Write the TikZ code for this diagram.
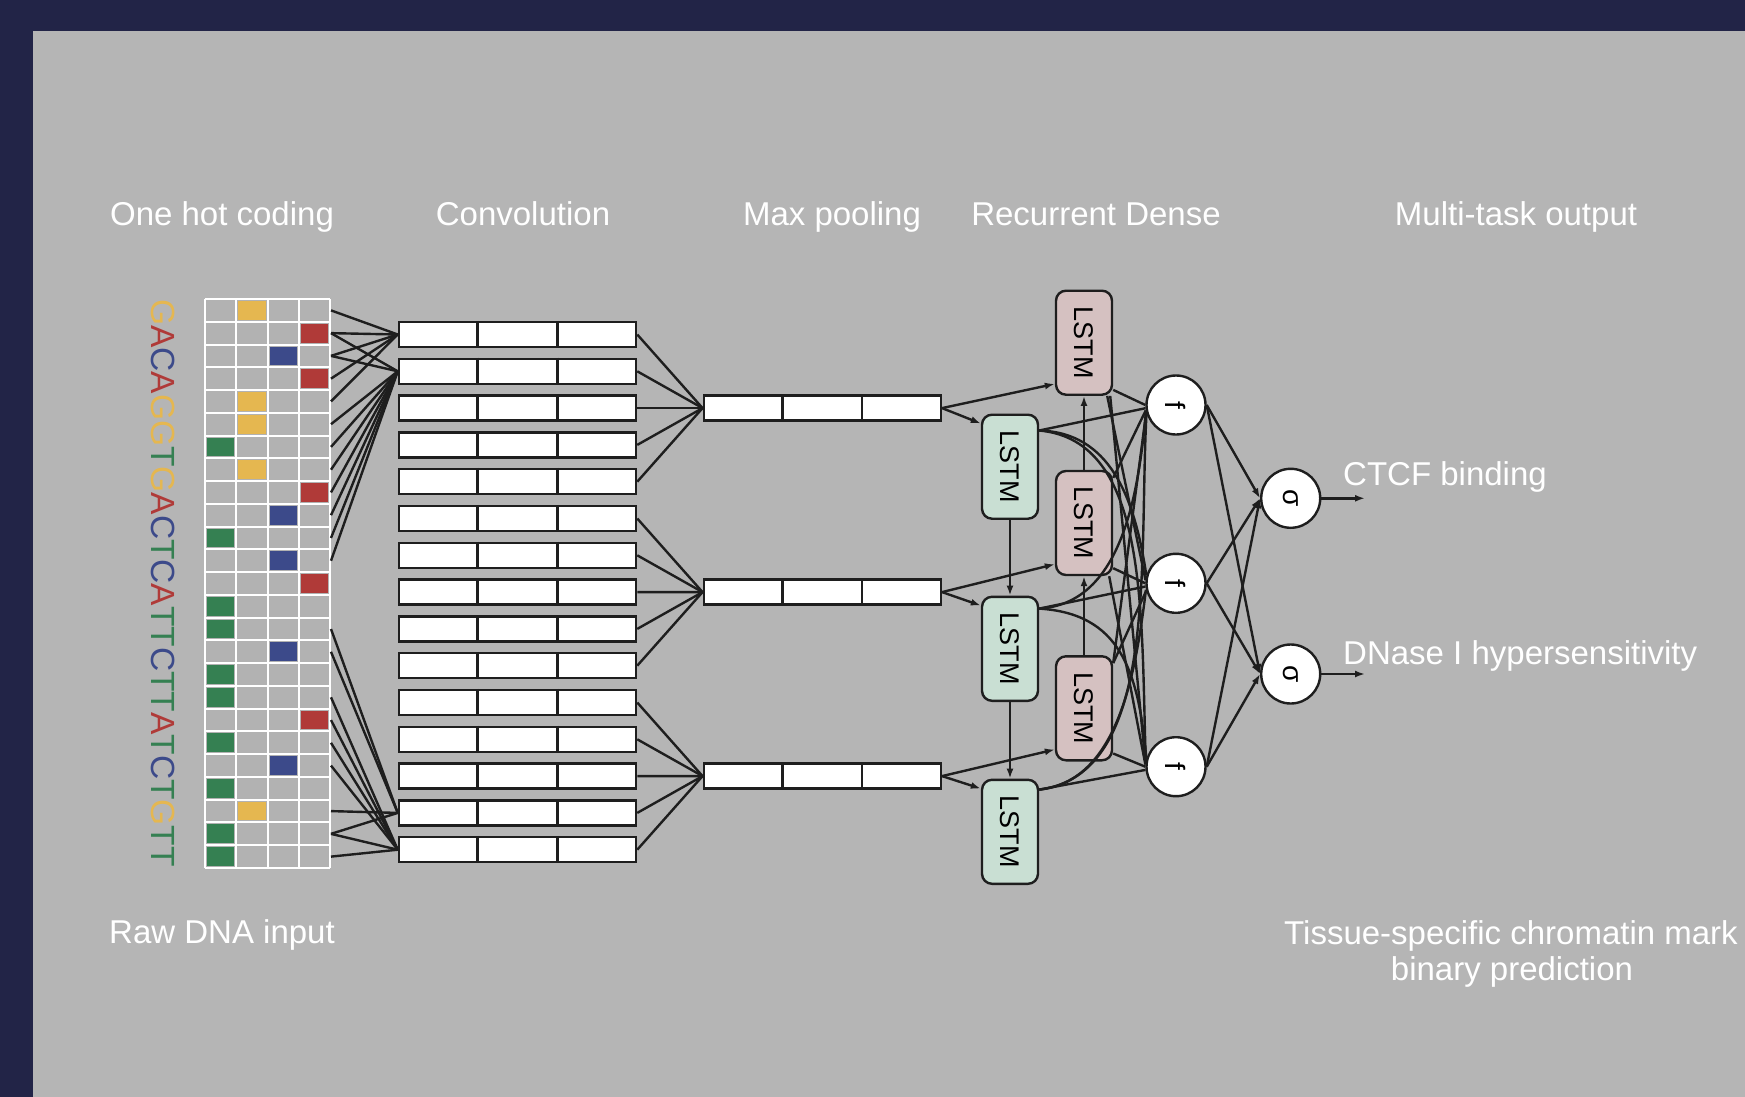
\documentclass[tikz,border=0pt]{standalone}
\usepackage{fontspec}
\setmainfont{Liberation Sans}
\usetikzlibrary{calc,arrows.meta}
\definecolor{navy}{RGB}{34,36,71}
\definecolor{bggray}{RGB}{181,181,181}
\definecolor{cellgray}{RGB}{178,178,178}
\definecolor{dnaY}{RGB}{229,183,80}
\definecolor{dnaR}{RGB}{176,58,56}
\definecolor{dnaB}{RGB}{60,74,138}
\definecolor{dnaG}{RGB}{53,128,82}
\definecolor{lstmG}{RGB}{201,223,211}
\definecolor{lstmP}{RGB}{213,193,193}
\definecolor{ink}{RGB}{30,30,30}
\begin{document}
\begin{tikzpicture}[x=1pt,y=-1pt,
  lab/.style={text=white,font=\fontsize{33}{38}\selectfont,inner sep=0pt},
  convbox/.style={draw=ink,fill=white,line width=2.5pt,minimum width=237pt,minimum height=25pt,inner sep=0pt},
  lstm/.style={draw=ink,line width=2.4pt,rounded corners=10pt,minimum width=56pt,minimum height=104pt,inner sep=0pt,font=\fontsize{27}{30}\selectfont},
  neuron/.style={circle,draw=ink,fill=white,line width=2.4pt,minimum size=59pt,inner sep=0pt,font=\fontsize{28}{30}\selectfont},
  conn/.style={draw=ink,line width=2.4pt},
  arr/.style={conn,-{Latex[length=10pt,width=7pt]}}
]
\useasboundingbox (0,0) rectangle (1745,1097);
\fill[navy] (0,0) rectangle (1745,1097);
\fill[bggray] (33,31) rectangle (1745,1097);

% one-hot grid
\fill[cellgray] (205,299) rectangle (330,868);
\foreach \k/\c/\col in {1/2/dnaY,2/4/dnaR,3/3/dnaB,4/4/dnaR,5/2/dnaY,6/2/dnaY,7/1/dnaG,8/2/dnaY,9/4/dnaR,10/3/dnaB,11/1/dnaG,12/3/dnaB,13/4/dnaR,14/1/dnaG,15/1/dnaG,16/3/dnaB,17/1/dnaG,18/1/dnaG,19/4/dnaR,20/1/dnaG,21/3/dnaB,22/1/dnaG,23/2/dnaY,24/1/dnaG,25/1/dnaG}
  \fill[\col] ({205+31.25*(\c-1)+2},{299+22.76*(\k-1)+2}) rectangle ({205+31.25*\c-2},{299+22.76*\k-2});
\foreach \i in {0,...,4} \draw[white,line width=2pt] ({205+31.25*\i},299) -- ({205+31.25*\i},868);
\foreach \j in {0,...,25} \draw[white,line width=2pt] (205,{299+22.76*\j}) -- (330,{299+22.76*\j});
\foreach \k in {1,...,25} \coordinate (r\k) at (331,{299+22.76*(\k-0.5)});

\node[inner sep=0pt,font=\fontsize{33.5}{36}\selectfont] (dna) at (163,583) {\rotatebox{-90}{\textcolor{dnaY}{G}\textcolor{dnaR}{A}\textcolor{dnaB}{C}\textcolor{dnaR}{A}\textcolor{dnaY}{G}\textcolor{dnaY}{G}\textcolor{dnaG}{T}\textcolor{dnaY}{G}\textcolor{dnaR}{A}\textcolor{dnaB}{C}\textcolor{dnaG}{T}\textcolor{dnaB}{C}\textcolor{dnaR}{A}\textcolor{dnaG}{T}\textcolor{dnaG}{T}\textcolor{dnaB}{C}\textcolor{dnaG}{T}\textcolor{dnaG}{T}\textcolor{dnaR}{A}\textcolor{dnaG}{T}\textcolor{dnaB}{C}\textcolor{dnaG}{T}\textcolor{dnaY}{G}\textcolor{dnaG}{T}\textcolor{dnaG}{T}}};

% convolution boxes
\foreach \i in {1,...,15} {
  \node[convbox] (c\i) at (517.5,{334.5+36.8*(\i-1)}) {};
  \draw[ink,line width=2.5pt] ($(c\i.north west)!1/3!(c\i.north east)$) -- ($(c\i.south west)!1/3!(c\i.south east)$);
  \draw[ink,line width=2.5pt] ($(c\i.north west)!2/3!(c\i.north east)$) -- ($(c\i.south west)!2/3!(c\i.south east)$);
}
% max pooling boxes
\foreach \i/\y in {1/408.1,2/592.1,3/776.1} {
  \node[convbox] (m\i) at (822.3,\y) {};
  \draw[ink,line width=2.5pt] ($(m\i.north west)!1/3!(m\i.north east)$) -- ($(m\i.south west)!1/3!(m\i.south east)$);
  \draw[ink,line width=2.5pt] ($(m\i.north west)!2/3!(m\i.north east)$) -- ($(m\i.south west)!2/3!(m\i.south east)$);
}

% grid -> convolution
\foreach \k in {1,2,3,4,5} \draw[conn] (r\k) -- (c1.west);
\foreach \k in {2,3,6,7,8,9,10,11,12} \draw[conn] (r\k) -- (c2.west);
\foreach \k in {15,16,23,24} \draw[conn] (r\k) -- (c14.west);
\foreach \k in {18,19,20,21,24,25} \draw[conn] (r\k) -- (c15.west);

% convolution -> pooling
\foreach \i in {1,...,5} \draw[conn] (c\i.east) -- (m1.west);
\foreach \i in {6,...,10} \draw[conn] (c\i.east) -- (m2.west);
\foreach \i in {11,...,15} \draw[conn] (c\i.east) -- (m3.west);

% LSTM boxes
\node[lstm,fill=lstmP] (p1) at (1084,342.7) {\rotatebox{-90}{LSTM}};
\node[lstm,fill=lstmP] (p2) at (1084,523) {\rotatebox{-90}{LSTM}};
\node[lstm,fill=lstmP] (p3) at (1084,708.3) {\rotatebox{-90}{LSTM}};
\node[lstm,fill=lstmG] (g1) at (1010,466.7) {\rotatebox{-90}{LSTM}};
\node[lstm,fill=lstmG] (g2) at (1010,648.8) {\rotatebox{-90}{LSTM}};
\node[lstm,fill=lstmG] (g3) at (1010,831.8) {\rotatebox{-90}{LSTM}};

\draw[arr] (g1.south) -- (g2.north);
\draw[arr] (g2.south) -- (g3.north);
\draw[arr] (p2.north) -- (p1.south);
\draw[arr] (p3.north) -- (p2.south);

\foreach \i in {1,2,3} {
  \draw[arr] (m\i.east) -- ([yshift=12pt]p\i.south west);
  \draw[arr] (m\i.east) -- ([yshift=-10pt]g\i.north west);
}

% dense neurons
\node[neuron] (f1) at (1176,405) {\rotatebox{-90}{f}};
\node[neuron] (f2) at (1176,583.3) {\rotatebox{-90}{f}};
\node[neuron] (f3) at (1176,766.7) {\rotatebox{-90}{f}};
\node[neuron] (s1) at (1290.7,498.3) {\rotatebox{-90}{σ}};
\node[neuron] (s2) at (1290.7,674) {\rotatebox{-90}{σ}};

% LSTM -> dense
\draw[conn] ([yshift=-17pt]g1.north east) -- (f1.186);
\draw[conn] ([yshift=-17pt]g1.north east) .. controls +(70,2) and +(-12,-80) .. (f2.165);
\draw[conn] ([yshift=-17pt]g1.north east) .. controls +(110,10) and +(-5,-150) .. (f3.170);
\draw[conn] ([yshift=-13pt]g2.north east) -- (f2.186);
\draw[conn] ([yshift=-13pt]g2.north east) .. controls +(80,-5) and +(-8,90) .. (f1.192);
\draw[conn] ([yshift=-13pt]g2.north east) .. controls +(80,5) and +(-8,-90) .. (f3.165);
\draw[conn] ([yshift=-11pt]g3.north east) -- (f3.186);
\draw[conn] ([yshift=-11pt]g3.north east) .. controls +(80,-8) and +(-10,80) .. (f2.192);
\draw[conn] ([yshift=-11pt]g3.north east) .. controls +(120,-15) and +(-8,150) .. (f1.196);

\draw[conn] ([yshift=6pt]p1.south east) -- (f1.west);
\draw[conn] ([xshift=-6pt]p1.south east) -- (f2.174);
\draw[conn] ([xshift=-3pt]p1.south east) -- (f3.174);
\draw[conn] ([yshift=-8pt]p2.north east) -- (f1.190);
\draw[conn] ([yshift=8pt]p2.south east) -- (f2.west);
\draw[conn] ([xshift=-4pt]p2.south east) -- (f3.176);
\draw[conn] ([yshift=-8pt]p3.north east) -- (f1.194);
\draw[conn] ([yshift=-8pt]p3.north east) -- (f2.194);
\draw[conn] ([yshift=8pt]p3.south east) -- (f3.west);

% dense -> outputs
\foreach \a in {1,2,3} \foreach \b in {1,2} \draw[arr] (f\a.east) -- (s\b.west);
\coordinate (o1) at (1365,498.3);
\coordinate (o2) at (1365,674);
\draw[arr] (s1.east) -- (o1);
\draw[arr] (s2.east) -- (o2);

% labels
\node[lab,anchor=base] (t1) at (222,225) {One hot coding};
\node[lab,anchor=base] (t2) at (523,225) {Convolution};
\node[lab,anchor=base] (t3) at (832,225) {Max pooling};
\node[lab,anchor=base] (t4) at (1096,225) {Recurrent Dense};
\node[lab,anchor=base] (t5) at (1516,225) {Multi-task output};
\node[lab,anchor=base] (t6) at (222,943) {Raw DNA input};
\node[lab,anchor=base west] (t7) at (1343,485) {CTCF binding};
\node[lab,anchor=base west] (t8) at (1343,664) {DNase I hypersensitivity};
\node[lab,anchor=base] (t9) at (1511,944) {Tissue-specific chromatin mark};
\node[lab,anchor=base] (t10) at (1512,980) {binary prediction};
\end{tikzpicture}
\end{document}
